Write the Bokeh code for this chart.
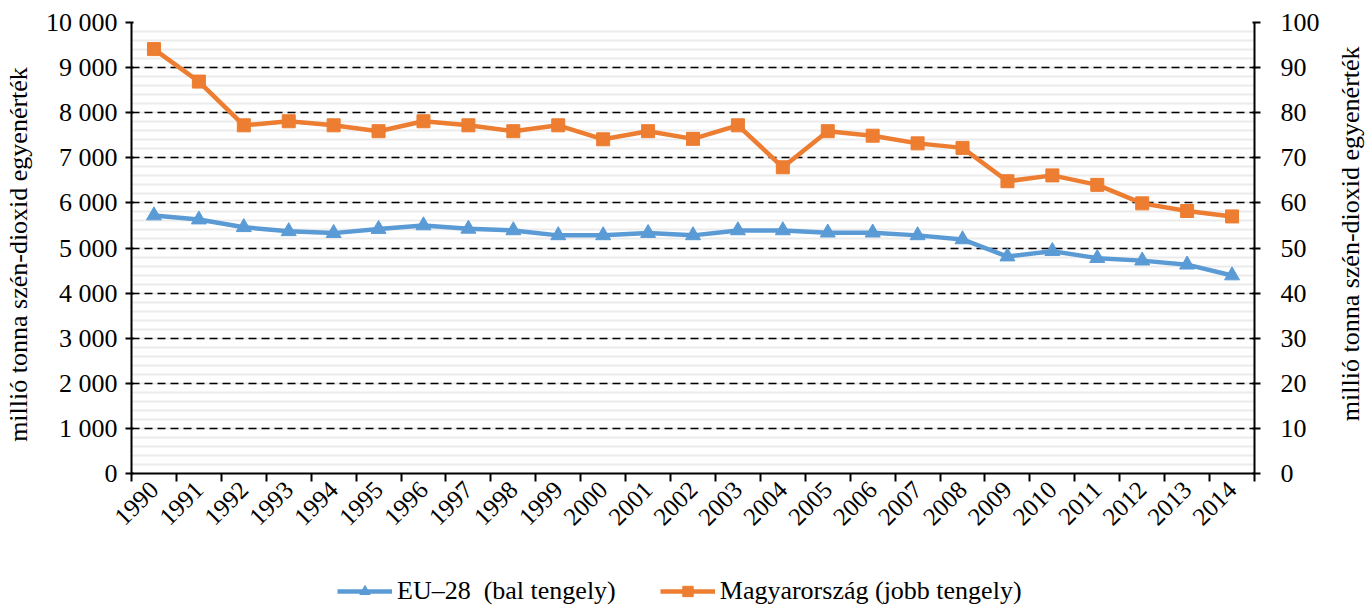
import math
from bokeh.plotting import figure
from bokeh.layouts import column, row
from bokeh.models import (Range1d, LinearAxis, FixedTicker, SingleIntervalTicker,
                          CustomJSTickFormatter, Legend, LegendItem, Label)
from bokeh.embed import file_html
from bokeh.resources import INLINE

years = [str(y) for y in range(1990, 2015)]
eu28 = [5720, 5630, 5460, 5370, 5330, 5420, 5500, 5425, 5390, 5280,
        5280, 5330, 5280, 5390, 5390, 5340, 5340, 5280, 5190, 4810,
        4930, 4775, 4720, 4630, 4390]
hungary = [94.1, 86.9, 77.2, 78.1, 77.2, 75.9, 78.1, 77.2, 75.9, 77.2,
           74.1, 75.9, 74.2, 77.2, 67.9, 75.9, 74.9, 73.2, 72.2, 64.8,
           66.1, 64.0, 59.9, 58.2, 57.0]
axis_title = "millió  tonna szén-dioxid  egyenérték"
legend_labels = ["EU–28  (bal tengely)", "Magyarország (jobb tengely)"]

FONT = "Liberation Serif"
BLUE = "#5B9BD5"
ORANGE = "#ED7D31"

xs = list(range(len(years)))

MAIN_W, MAIN_H = 1330, 545
TITLE_W = 1369 - MAIN_W
LEG_H = 609 - MAIN_H

p = figure(width=MAIN_W, height=MAIN_H, output_backend="svg", toolbar_location=None,
           x_range=Range1d(-0.5, len(years) - 0.5), y_range=Range1d(0, 10000),
           min_border_left=128, min_border_right=MAIN_W - 1254, min_border_top=22,
           min_border_bottom=MAIN_H - 473)
p.extra_y_ranges = {"right": Range1d(0, 100)}
p.outline_line_color = None
p.background_fill_color = "white"

# x axis: labels at category centres, tick marks at category boundaries
xa = p.xaxis[0]
xa.ticker = FixedTicker(ticks=xs, minor_ticks=[i - 0.5 for i in range(len(years) + 1)])
xa.major_label_overrides = {i: y for i, y in enumerate(years)}
xa.major_tick_out = 0
xa.major_tick_in = 0
xa.minor_tick_out = 8
xa.minor_tick_in = 0
xa.minor_tick_line_color = "black"
xa.minor_tick_line_width = 2
xa.axis_line_color = "black"
xa.axis_line_width = 2
xa.major_label_orientation = math.pi / 4
xa.major_label_text_font = FONT
xa.major_label_text_font_size = "25px"
xa.major_label_text_color = "black"
xa.major_label_standoff = 4

fmt = CustomJSTickFormatter(code="return tick.toFixed(0).replace(/\\B(?=(\\d{3})+(?!\\d))/g, ' ');")

ya = p.yaxis[0]
ya.ticker = SingleIntervalTicker(interval=1000, num_minor_ticks=5)
ya.formatter = fmt
ya.axis_label = axis_title

ra = LinearAxis(y_range_name="right", ticker=SingleIntervalTicker(interval=10, num_minor_ticks=0))
p.add_layout(ra, "right")

for ax in (ya, ra):
    ax.axis_line_color = "black"
    ax.axis_line_width = 2
    ax.major_tick_out = 6
    ax.major_tick_in = 2
    ax.major_tick_line_color = "black"
    ax.major_tick_line_width = 2
    ax.minor_tick_out = 0
    ax.minor_tick_in = 0
    ax.major_label_text_font = FONT
    ax.major_label_text_font_size = "26px"
    ax.major_label_text_color = "black"
    ax.axis_label_text_font = FONT
    ax.axis_label_text_font_size = "26px"
    ax.axis_label_text_font_style = "normal"
    ax.axis_label_text_color = "black"
    ax.axis_label_standoff = 10
ya.major_label_standoff = 8
ra.major_label_standoff = 20

p.xgrid.visible = False
g = p.ygrid[0]
g.ticker = ya.ticker
g.grid_line_color = "black"
g.grid_line_dash = "8 5"
g.grid_line_width = 1.5
g.minor_grid_line_color = "#EBEBEB"
g.minor_grid_line_width = 2

l1 = p.line(xs, eu28, line_color=BLUE, line_width=4.5)
m1 = p.scatter(xs, eu28, marker="triangle", size=15, fill_color=BLUE, line_color=BLUE)
l2 = p.line(xs, hungary, line_color=ORANGE, line_width=4.5, y_range_name="right")
m2 = p.scatter(xs, hungary, marker="square", size=13, fill_color=ORANGE, line_color=ORANGE,
               y_range_name="right")

# right-hand axis title (reads bottom-to-top, like the left one)
t = figure(width=TITLE_W, height=MAIN_H, output_backend="svg", toolbar_location=None,
           x_range=Range1d(0, TITLE_W), y_range=Range1d(0, MAIN_H),
           x_axis_location=None, y_axis_location=None, min_border=0)
t.outline_line_color = None
t.grid.visible = False
t.add_layout(Label(x=TITLE_W - 19, y=MAIN_H - 247.5, text=axis_title, angle=math.pi / 2,
                   text_align="center", text_baseline="middle",
                   text_font=FONT, text_font_size="26px", text_color="black"))

# legend strip below the chart
q = figure(width=1369, height=LEG_H, output_backend="svg", toolbar_location=None,
           x_range=Range1d(0, 1), y_range=Range1d(0, 1),
           x_axis_location=None, y_axis_location=None, min_border=0)
q.outline_line_color = None
q.grid.visible = False
k1 = q.line(xs, eu28, line_color=BLUE, line_width=4.5, visible=False)
n1 = q.scatter(xs, eu28, marker="triangle", size=15, fill_color=BLUE, line_color=BLUE, visible=False)
k2 = q.line(xs, hungary, line_color=ORANGE, line_width=4.5, visible=False)
n2 = q.scatter(xs, hungary, marker="square", size=13, fill_color=ORANGE, line_color=ORANGE, visible=False)
legend = Legend(items=[LegendItem(label=legend_labels[0], renderers=[k1, n1]),
                       LegendItem(label=legend_labels[1], renderers=[k2, n2])],
                orientation="horizontal", location=(337, 3),
                label_text_font=FONT, label_text_font_size="26px", label_text_color="black",
                glyph_width=55, glyph_height=26, label_height=26, label_standoff=5, spacing=44,
                border_line_color=None, background_fill_alpha=0, padding=0, margin=0)
q.add_layout(legend, "center")

layout = column(row(p, t, spacing=0), q, spacing=0)
open("out.html", "w").write(file_html(layout, INLINE))
